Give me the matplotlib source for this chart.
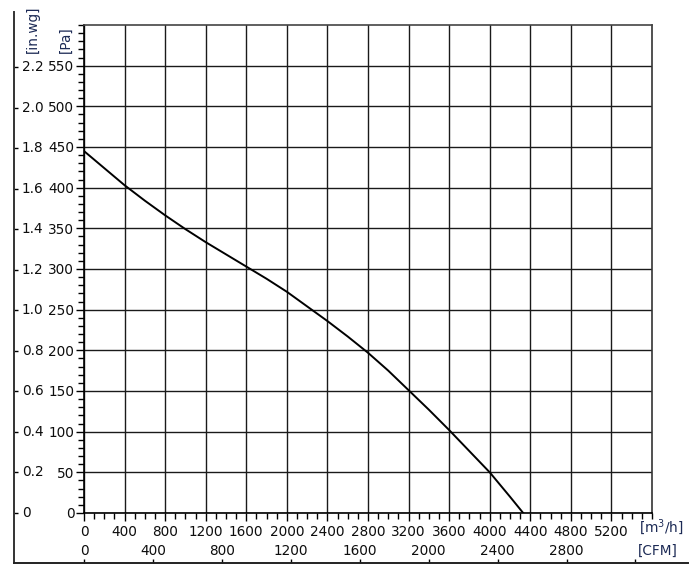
import matplotlib
matplotlib.use("Agg")
import matplotlib.pyplot as plt
from matplotlib.ticker import MultipleLocator
from matplotlib.transforms import blended_transform_factory

# fan curve
flow = [0, 200, 400, 600, 800, 1000, 1200, 1400, 1600, 1800, 2000, 2200,
        2400, 2600, 2800, 3000, 3200, 3400, 3600, 3800, 4000, 4200, 4330]
pressure = [445, 424, 403, 384, 366, 349, 333, 318, 303, 288, 272, 254,
            236, 217, 197, 175, 151, 127, 102, 76, 50, 20, 0]

pa_ticks = list(range(0, 551, 50))
flow_ticks = list(range(0, 5201, 400))
inwg_ticks = [0, 0.2, 0.4, 0.6, 0.8, 1.0, 1.2, 1.4, 1.6, 1.8, 2.0, 2.2]
inwg_labels = ["0", "0.2", "0.4", "0.6", "0.8", "1.0", "1.2", "1.4", "1.6", "1.8", "2.0", "2.2"]
cfm_ticks = [0, 400, 800, 1200, 1600, 2000, 2400, 2800, 3200]
cfm_labels = ["0", "400", "800", "1200", "1600", "2000", "2400", "2800"]

PA_PER_INWG = 249.09
M3H_PER_CFM = 1.699

W, H = 695, 575
fs = 9.8
txt = "#0d0d0d"
unit_col = "#1c2a55"

fig = plt.figure(figsize=(W / 100, H / 100), dpi=100)

# pixel geometry of the plot area
x0, x1, y0, y1 = 84, 652, 513, 25
qmax, pmax = 5600, 600
qpp = qmax / (x1 - x0)
ppp = pmax / (y0 - y1)

# outer frame with the in.wg and CFM scales
fl, fr_, ft, fb = 14, 688, 12, 563
fr = fig.add_axes([fl / W, (H - fb) / H, (fr_ - fl) / W, (fb - ft) / H])
fr.patch.set_alpha(0)
fr.set_xlim((fl - x0) * qpp / M3H_PER_CFM, (fr_ - x0) * qpp / M3H_PER_CFM)
fr.set_ylim((y0 - fb) * ppp / PA_PER_INWG, (y0 - ft) * ppp / PA_PER_INWG)
fr.spines["top"].set_visible(False)
fr.spines["right"].set_visible(False)
fr.spines["left"].set_linewidth(1.4)
fr.spines["left"].set_color("#333333")
fr.spines["bottom"].set_linewidth(1.4)
fr.spines["bottom"].set_color("#222222")
fr.set_yticks(inwg_ticks)
fr.set_xticks(cfm_ticks)
fr.tick_params(direction="in", length=3, width=1, labelleft=False, labelbottom=False)

tx = blended_transform_factory(fr.transAxes, fr.transData)
for v, s in zip(inwg_ticks, inwg_labels):
    fr.text((22 - fl) / (fr_ - fl), v, s, transform=tx, ha="left", va="center",
            fontsize=fs, color=txt)
ty = blended_transform_factory(fr.transData, fig.transFigure)
for v, s in zip(cfm_ticks, cfm_labels):
    fr.text(v, (H - 551) / H, s, transform=ty, ha="center", va="center",
            fontsize=fs, color=txt)

# main plot
ax = fig.add_axes([x0 / W, (H - y0) / H, (x1 - x0) / W, (y0 - y1) / H])
ax.plot(flow, pressure, color="black", lw=1.4)
ax.set_xlim(0, qmax)
ax.set_ylim(0, pmax)
ax.set_xticks(flow_ticks)
ax.set_yticks(pa_ticks)
ax.xaxis.set_minor_locator(MultipleLocator(100))
ax.yaxis.set_minor_locator(MultipleLocator(10))
ax.grid(True, which="major", color="#1a1a1a", lw=1.0)
ax.set_axisbelow(True)
ax.tick_params(which="major", length=6, width=1, pad=1, labelsize=fs, labelcolor=txt)
ax.tick_params(which="minor", length=4, width=1)
ax.tick_params(axis="x", which="major", pad=3)
for s in ax.spines.values():
    s.set_linewidth(1.2)
ax.spines["top"].set_color("#444444")
ax.spines["right"].set_color("#333333")

fig.text(639 / W, 1 - 527 / H, "[m$^3$/h]", ha="left", va="center", fontsize=fs, color=unit_col)
fig.text(638 / W, 1 - 551 / H, "[CFM]", ha="left", va="center", fontsize=fs, color=unit_col)
fig.text(33 / W, 1 - 53 / H, "[in.wg]", rotation=90, ha="center", va="bottom", fontsize=fs, color=unit_col)
fig.text(66 / W, 1 - 53 / H, "[Pa]", rotation=90, ha="center", va="bottom", fontsize=fs, color=unit_col)

fig.savefig("out.png", dpi=100)
